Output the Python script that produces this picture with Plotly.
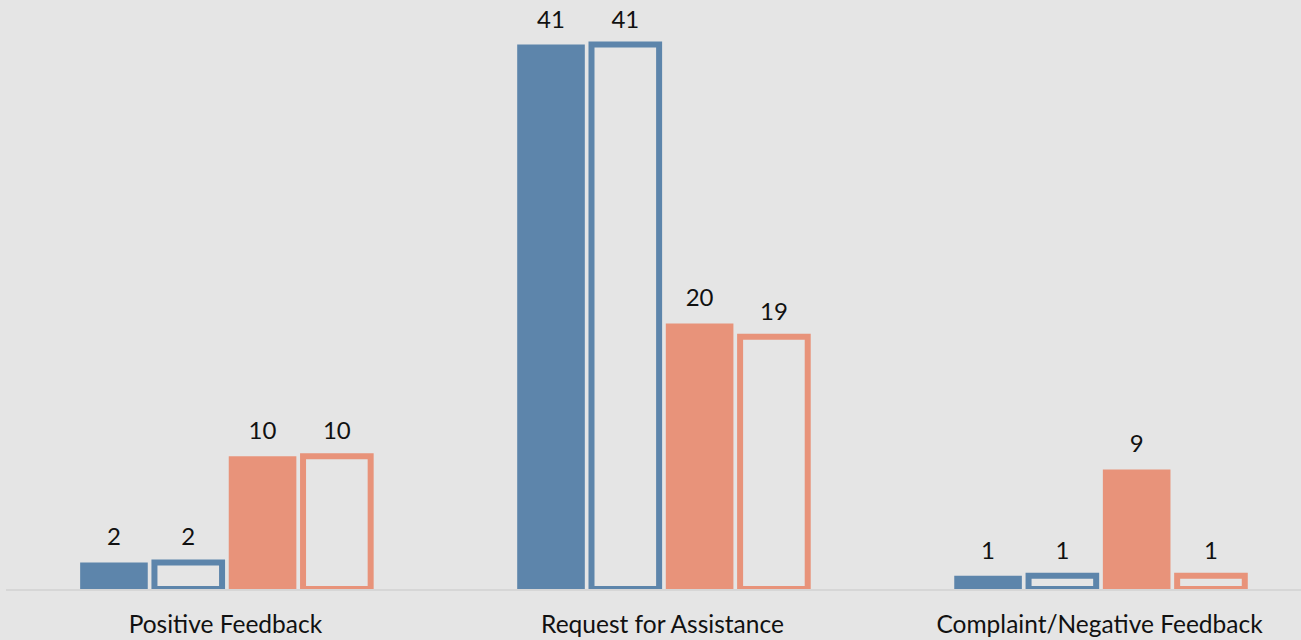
import plotly.graph_objects as go

categories = ["Positive Feedback", "Request for Assistance", "Complaint/Negative Feedback"]
series_a_filled = [2, 41, 1]
series_a_outline = [2, 41, 1]
series_b_filled = [10, 20, 9]
series_b_outline = [10, 19, 1]

BLUE = "#5d85ab"
SALMON = "#e8937a"
BG = "#e5e5e5"
FONT = "Lato"

label_tpl = "<span style='font-size:24px'>%{y}</span><br>\u00a0"

fig = go.Figure()

def add(vals, color, filled, name):
    fig.add_trace(go.Bar(
        x=categories, y=vals, name=name,
        marker=dict(
            color=color if filled else "rgba(0,0,0,0)",
            line=dict(color=color, width=0 if filled else 6),
        ),
        texttemplate=label_tpl,
        textposition="outside",
        textfont=dict(family=FONT, size=9.3, color="#111111"),
        cliponaxis=False,
        constraintext="none",
        hoverinfo="x+y",
    ))

add(series_a_filled, BLUE, True, "A")
add(series_a_outline, BLUE, False, "A (outline)")
add(series_b_filled, SALMON, True, "B")
add(series_b_outline, SALMON, False, "B (outline)")

fig.update_layout(
    width=1301, height=640,
    margin=dict(l=6, r=0, t=0, b=50.5),
    paper_bgcolor=BG, plot_bgcolor=BG,
    barmode="group", bargap=0.32, bargroupgap=0.09,
    showlegend=False,
    font=dict(family=FONT, size=24.5, color="#111111"),
    xaxis=dict(
        type="category", range=[-0.502, 2.461],
        showline=True, linecolor="#d6d6d6", linewidth=2,
        showgrid=False, zeroline=False, ticks="",
        tickfont=dict(family=FONT, size=24.5, color="#111111"),
        ticklabelstandoff=13,
    ),
    yaxis=dict(
        range=[0, 44.36], visible=False, showgrid=False, zeroline=False,
    ),
)

fig.write_html("out.html")
